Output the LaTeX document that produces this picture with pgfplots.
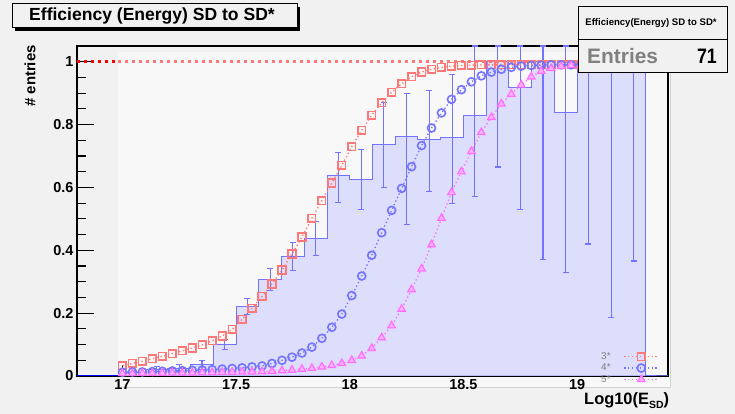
\documentclass[border=0pt]{standalone}
\usepackage{fontspec}
\setmainfont{Liberation Sans}
\usepackage{pgfplots}
\pgfplotsset{compat=1.18}
\usepackage{pgfplotstable}
\definecolor{bg}{RGB}{241,241,241}
\definecolor{padbg}{RGB}{248,248,248}
\definecolor{lred}{RGB}{255,120,120}
\definecolor{lblue}{RGB}{115,115,255}
\definecolor{lmag}{RGB}{255,110,255}
\definecolor{lmagfill}{RGB}{255,180,255}
\definecolor{histfill}{RGB}{221,221,252}

\pgfplotstableread{
x r b m
17.0000 0.033 0.012 0.008
17.0439 0.040 0.013 0.008
17.0877 0.047 0.013 0.009
17.1316 0.055 0.014 0.009
17.1754 0.063 0.015 0.009
17.2193 0.071 0.016 0.010
17.2632 0.080 0.017 0.010
17.3070 0.089 0.018 0.010
17.3509 0.099 0.019 0.011
17.3947 0.112 0.020 0.011
17.4386 0.127 0.022 0.012
17.4825 0.148 0.024 0.012
17.5263 0.180 0.026 0.013
17.5702 0.215 0.029 0.013
17.6140 0.253 0.032 0.014
17.6579 0.293 0.040 0.015
17.7018 0.337 0.050 0.017
17.7456 0.388 0.060 0.019
17.7895 0.442 0.073 0.022
17.8333 0.502 0.092 0.025
17.8772 0.558 0.120 0.029
17.9211 0.614 0.155 0.034
17.9649 0.670 0.197 0.040
18.0088 0.730 0.256 0.050
18.0526 0.782 0.318 0.064
18.0965 0.830 0.384 0.088
18.1404 0.869 0.456 0.122
18.1842 0.903 0.527 0.160
18.2281 0.930 0.597 0.213
18.2719 0.952 0.666 0.275
18.3158 0.967 0.733 0.341
18.3596 0.976 0.789 0.418
18.4035 0.982 0.837 0.502
18.4474 0.986 0.880 0.584
18.4912 0.988 0.911 0.650
18.5351 0.989 0.936 0.715
18.5789 0.990 0.955 0.775
18.6228 0.990 0.967 0.823
18.6667 0.990 0.976 0.866
18.7105 0.990 0.982 0.897
18.7544 0.990 0.986 0.926
18.7982 0.990 0.988 0.952
18.8421 0.990 0.989 0.970
18.8860 0.990 0.990 0.979
18.9298 0.990 0.990 0.985
18.9737 0.990 0.990 0.988
19.0175 0.990 0.990 0.990
19.0614 0.990 0.990 0.990
19.1053 0.990 0.990 0.990
19.1491 0.990 0.990 0.990
19.1930 0.990 0.990 0.990
19.2368 0.990 0.990 0.990
19.2807 0.990 0.990 0.990
19.3246 0.990 0.990 0.990
19.3684 0.990 0.990 0.990
}\markers

\pgfplotstableread{
x y
16.98 0
17.0 0.012
17.1 0.022
17.2 0.025
17.3 0.035
17.4 0.100
17.5 0.222
17.6 0.306
17.7 0.380
17.8 0.438
17.9 0.637
18.0 0.624
18.1 0.736
18.2 0.762
18.3 0.752
18.4 0.760
18.5 0.828
18.6 1.000
18.7 0.917
18.8 1.000
18.9 0.837
19.0 1.000
19.1 1.000
19.2 1.000
19.3 0
19.4 0
}\histo

% error bar ends (lower, upper) per bin centre; nan rows separate the bars
\pgfplotstableread{
x y
17.05 0.006
17.05 0.018
nan nan
17.15 0.014
17.15 0.030
nan nan
17.25 0.014
17.25 0.036
nan nan
17.35 0.020
17.35 0.050
nan nan
17.45 0.084
17.45 0.116
nan nan
17.55 0.197
17.55 0.247
nan nan
17.65 0.271
17.65 0.341
nan nan
17.75 0.335
17.75 0.425
nan nan
17.85 0.383
17.85 0.493
nan nan
17.95 0.552
17.95 0.711
nan nan
18.05 0.530
18.05 0.720
nan nan
18.15 0.600
18.15 0.870
nan nan
18.25 0.482
18.25 0.900
nan nan
18.35 0.587
18.35 0.908
nan nan
18.45 0.550
18.45 0.960
nan nan
18.55 0.570
18.55 1.050
nan nan
18.65 0.665
18.65 1.050
nan nan
18.75 0.530
18.75 1.050
nan nan
18.85 0.370
18.85 1.050
nan nan
18.95 0.330
18.95 1.050
nan nan
19.05 0.420
19.05 1.050
nan nan
19.15 0.185
19.15 1.050
nan nan
19.25 0.366
19.25 1.050
}\ebars

\begin{document}
\begin{tikzpicture}
\useasboundingbox (0,0) rectangle (735bp,414bp);
\fill[bg] (0,0) rectangle (735bp,414bp);
% lighter pad behind the efficiency curves
\fill[padbg] (118bp,27bp) rectangle (670bp,362bp);
\draw[gray!35, line width=0.7bp] (118bp,27bp) -- (670bp,27bp) -- (670bp,362bp);
\begin{axis}[
  at={(77bp,38bp)}, anchor=south west,
  scale only axis, width=591bp, height=330bp,
  xmin=16.8, xmax=19.4, ymin=0, ymax=1.05,
  axis line style={black, line width=1.2bp},
  tick align=inside, tick pos=left,
  tick style={black, line width=1.1bp},
  major tick length=17bp, minor tick length=9bp,
  xtick style={/pgfplots/major tick length=11bp, /pgfplots/minor tick length=5bp},
  xtick={17,17.5,18,18.5,19}, xticklabels={17,17.5,18,18.5,19},
  minor x tick num=4,
  ytick={0,0.2,0.4,0.6,0.8,1}, yticklabels={0,0.2,0.4,0.6,0.8,1},
  minor y tick num=3,
  ticklabel style={font=\fontsize{14.5}{14.5}\selectfont\bfseries},
  /pgf/number format/assume math mode=true,
  unbounded coords=jump,
  legend plot pos=right,
  legend cell align=right,
  legend style={at={(0.985,0.075)}, anchor=north east, draw=none, fill=none,
    font=\fontsize{10}{10}\selectfont, text=gray, row sep=1bp, inner sep=0pt,
    nodes={inner sep=1bp},
    /tikz/every odd column/.append style={column sep=12bp}},
  legend image code/.code={\draw[mark repeat=2,mark phase=2,#1] plot coordinates {(0bp,0bp) (17bp,0bp) (34bp,0bp)};},
]
\addplot[const plot, draw=lblue, line width=1bp, fill=histfill, forget plot] table[x=x,y=y]{\histo} \closedcycle;
\addplot[blue, line width=1.6bp, forget plot] coordinates {(16.8,0) (16.98,0)};
\addplot[draw=lblue, line width=1.1bp, mark=-, mark size=3bp, mark options={solid, draw=lblue, line width=1.1bp}, forget plot] table[x=x,y=y]{\ebars};
\addplot[red, line width=3bp, dash pattern=on 3bp off 4bp, forget plot] coordinates {(16.8,1) (16.98,1)};
\addplot[lred, line width=3bp, dash pattern=on 3bp off 4bp, forget plot] coordinates {(16.98,1) (19.4,1)};
\addplot[color=lred, line width=1.3bp, dash pattern=on 1.3bp off 2.6bp, mark=square, mark size=3.8bp, mark options={solid, line width=1.6bp}] table[x=x,y=r]{\markers};
\addlegendentry{3*}
\addplot[color=lblue, line width=1.3bp, dash pattern=on 1.3bp off 2.6bp, mark=o, mark size=4bp, mark options={solid, line width=1.6bp}] table[x=x,y=b]{\markers};
\addlegendentry{4*}
\addplot[color=lmag, line width=1.3bp, dash pattern=on 1.3bp off 2.6bp, mark=triangle*, mark size=4.3bp, mark options={solid, fill=lmagfill, draw=lmag, line width=1.2bp}] table[x=x,y=m]{\markers};
\addlegendentry{5*}
\end{axis}
% title box
\fill[black] (15bp,383bp) rectangle (300bp,407bp);
\filldraw[fill=bg, draw=black, line width=1bp] (12bp,386bp) rectangle (297bp,410bp);
\node[font=\fontsize{17.6}{17.6}\selectfont\bfseries] at (152bp,397.5bp) {Efficiency (Energy) SD to SD*};
% stats box
\filldraw[fill=bg, draw=black, line width=1bp] (578bp,341bp) rectangle (727bp,407bp);
\draw[black, line width=1bp] (578bp,374bp) -- (727bp,374bp);
\node[font=\fontsize{9.6}{9.6}\selectfont\bfseries] at (651bp,390.5bp) {Efficiency(Energy) SD to SD*};
\node[font=\fontsize{21}{21}\selectfont\bfseries, text=gray, anchor=base west, inner sep=0pt] at (587bp,350bp) {Entries};
\node[font=\fontsize{21}{21}\selectfont\bfseries, anchor=base east, inner sep=0pt, xscale=0.85] at (717bp,350bp) {71};
% axis titles
\node[font=\fontsize{15}{15}\selectfont\bfseries, rotate=90] at (30bp,338bp) {\# entries};
\node[font=\fontsize{16.5}{16.5}\selectfont\bfseries, anchor=base west, inner sep=0pt] at (584bp,10bp) {Log10(E\raisebox{-4.5bp}{\fontsize{10.5}{10.5}\selectfont SD})};
\end{tikzpicture}
\end{document}
